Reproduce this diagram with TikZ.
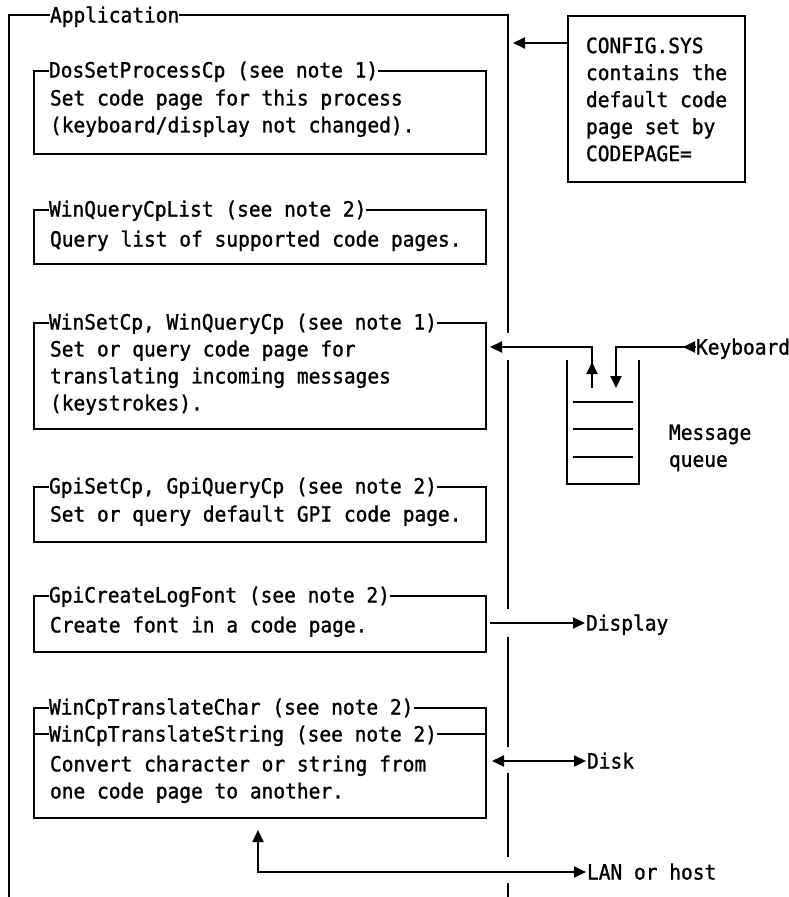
\documentclass[tikz,border=0pt]{standalone}
\usepackage{fontspec}
\setmonofont[FakeStretch=0.93,FakeBold=1.2]{DejaVu Sans Mono}
\usetikzlibrary{arrows.meta}

\tikzset{
  fnbox/.style={draw,anchor=north west,minimum width=452pt,inner sep=0},
  lbl/.style={anchor=west,inner sep=0,text height=15pt,text depth=0pt},
  ttl/.style={lbl,fill=white},
  txt/.style={anchor=north west,inner sep=0,align=left},
  arr/.style={-{Triangle[length=12pt,width=11pt]}},
  arrs/.style={{Triangle[length=12pt,width=11pt]}-{Triangle[length=12pt,width=11pt]}}
}

\begin{document}
\begin{tikzpicture}[x=1pt,y=-1pt,line width=2pt,font=\ttfamily\fontsize{21}{27}\selectfont]
\useasboundingbox (0,0) rectangle (789,897);

% application frame, open at the bottom
\draw (9,897) -- (9,15) -- (508,15) -- (508,333)
      (508,360) -- (508,609) (508,637) -- (508,747)
      (508,773) -- (508,857) (508,883) -- (508,897);
\node[ttl] (app) at (49,15) {Application};

% DosSetProcessCp
\node[fnbox,minimum height=83pt] (dos) at (33,70) {};
\node[ttl] (dosT) at (48,70) {DosSetProcessCp (see note 1)};
\node[txt] (dosB) at (49,88.5) {Set code page for this process\\(keyboard/display not changed).};

% WinQueryCpList
\node[fnbox,minimum height=54pt] (wql) at (33,209) {};
\node[ttl] (wqlT) at (48,209) {WinQueryCpList (see note 2)};
\node[txt] (wqlB) at (49,229.5) {Query list of supported code pages.};

% WinSetCp
\node[fnbox,minimum height=106pt] (wsc) at (33,322) {};
\node[ttl] (wscT) at (48,322) {WinSetCp, WinQueryCp (see note 1)};
\node[txt] (wscB) at (49,339.5) {Set or query code page for\\translating incoming messages\\(keystrokes).};

% GpiSetCp
\node[fnbox,minimum height=55pt] (gsc) at (33,486) {};
\node[ttl] (gscT) at (48,486) {GpiSetCp, GpiQueryCp (see note 2)};
\node[txt] (gscB) at (49,504.5) {Set or query default GPI code page.};

% GpiCreateLogFont
\node[fnbox,minimum height=56pt] (gcl) at (33,595) {};
\node[ttl] (gclT) at (48,595) {GpiCreateLogFont (see note 2)};
\node[txt] (gclB) at (49,615.5) {Create font in a code page.};

% WinCpTranslateChar / String
\node[fnbox,minimum height=110pt] (wct) at (33,707) {};
\draw (33,734) -- (485,734);
\node[ttl] (wctT) at (48,707) {WinCpTranslateChar (see note 2)};
\node[ttl] (wctS) at (48,734) {WinCpTranslateString (see note 2)};
\node[txt] (wctB) at (49,754.5) {Convert character or string from\\one code page to another.};

% CONFIG.SYS
\node[draw,anchor=north west,minimum width=177pt,minimum height=166pt,inner sep=0] (cfg) at (567,15) {};
\node[txt] (cfgB) at (585,36.5) {CONFIG.SYS\\contains the\\default code\\page set by\\CODEPAGE=};
\coordinate (cfgIn) at (513,43);
\draw[arr] (cfg.west |- cfgIn) -- (cfgIn);

% message queue
\draw (567,360) |- (639,484) -- (639,360);
\foreach \y in {402,429,457}
  \draw (573,\y) -- (633,\y);
\node[txt] (mq) at (668,423.5) {Message\\queue};
\node[lbl] (kbd) at (695,347) {Keyboard};
\coordinate (qOut) at (592,388);
\coordinate (qIn) at (616,388);
\coordinate (wscIn) at (490,347);
\draw[arr] (qOut) -- ++(0,-26);
\draw[arr] (qOut) |- (wscIn);
\draw[arr] (kbd.west) -- ++(-12,0);
\draw[arr] (kbd.west) -| (qIn);

% devices
\node[lbl] (disp) at (585,623) {Display};
\node[lbl] (disk) at (586,761) {Disk};
\node[lbl] (lan) at (586,872) {LAN or host};
\coordinate (gclOut) at (490,623);
\coordinate (wctIO) at (492,761);
\coordinate (wctUp) at (258,830);
\draw[arr] (gclOut) -- (disp.west);
\draw[arrs] (wctIO) -- (disk.west);
\draw[arrs] (wctUp) |- (lan.west);
\end{tikzpicture}
\end{document}
